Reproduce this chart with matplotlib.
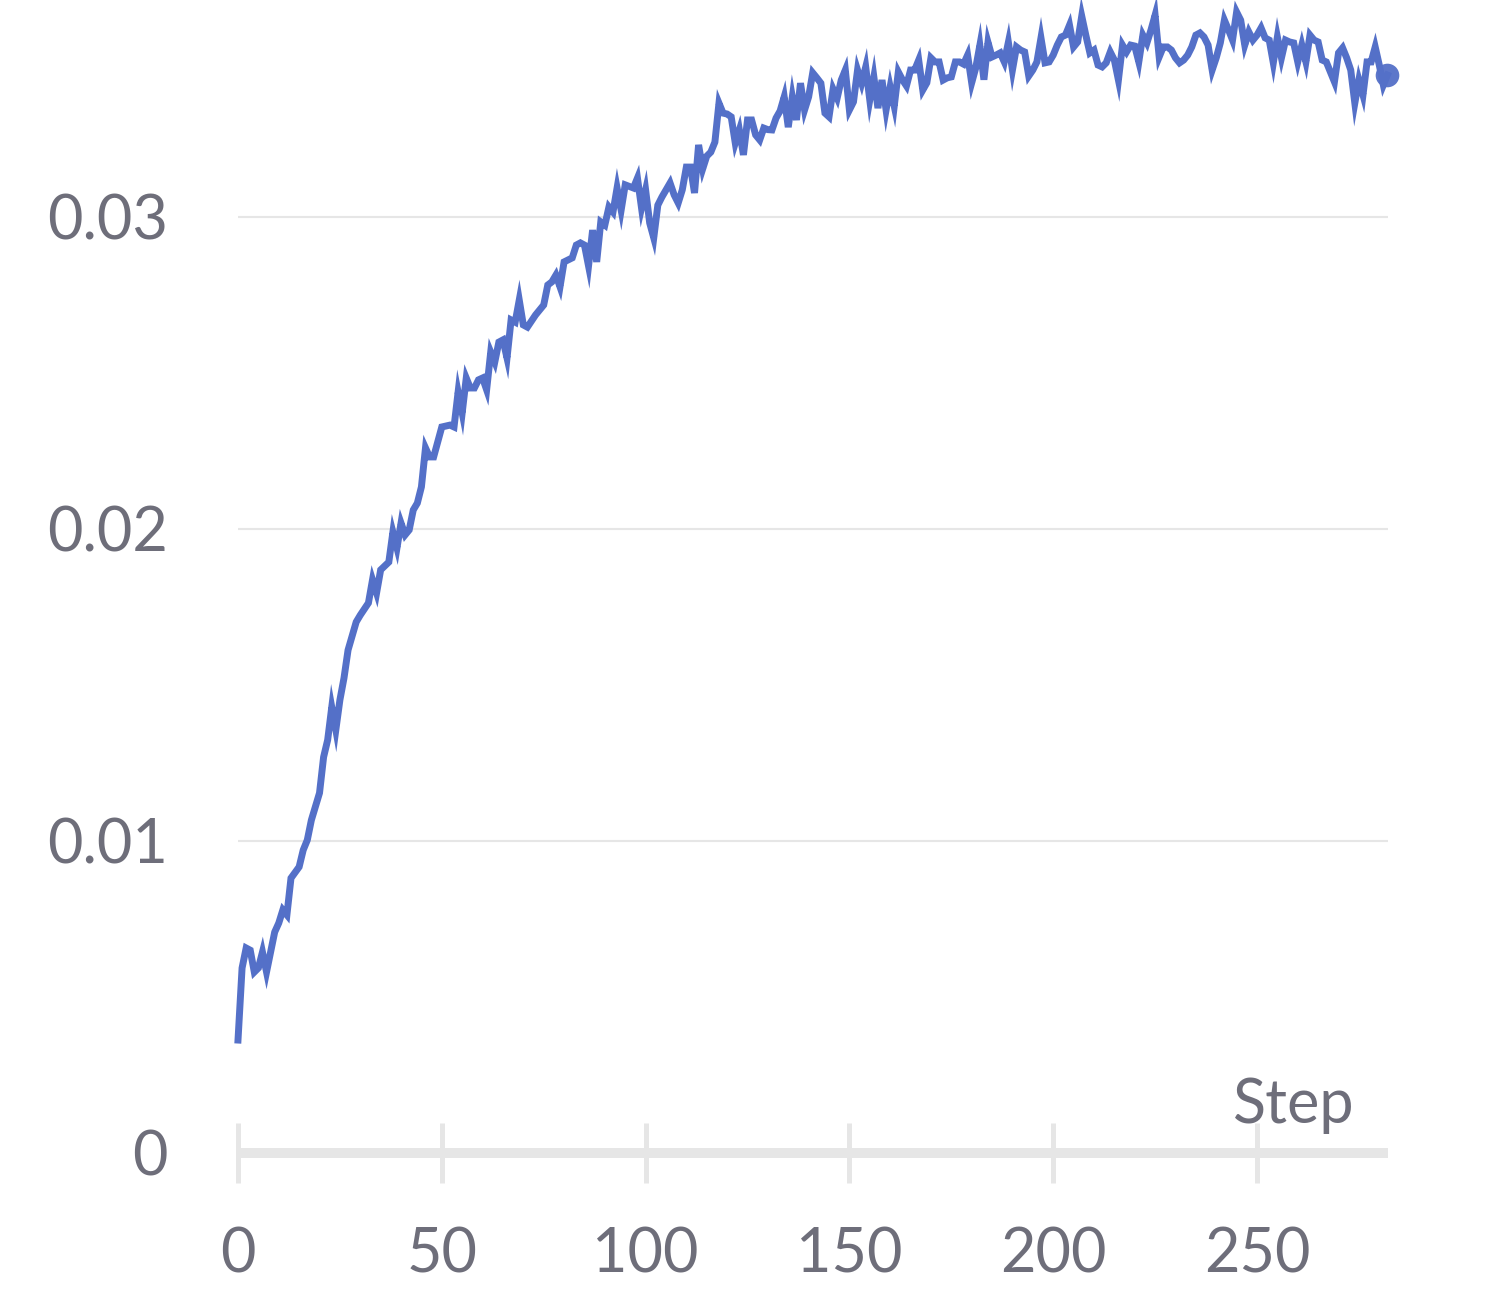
import matplotlib
matplotlib.use("Agg")
import matplotlib.pyplot as plt

plt.rcParams['font.family'] = ['Lato', 'DejaVu Sans']

# ---- data ----
steps = [0, 1, 2, 3, 4, 5, 6, 7, 9, 10, 11, 12, 13, 15, 16, 17, 18, 20, 21, 22,
         23, 24, 25, 26, 27, 29, 30, 32, 33, 34, 35, 37, 38, 39, 40, 41, 42, 43, 44, 45,
         46, 47, 48, 50, 52, 53, 54, 55, 56, 57, 58, 59, 60, 61, 62, 63, 64, 65, 66, 67,
         68, 69, 70, 71, 73, 75, 76, 77, 78, 79, 80, 82, 83, 84, 85, 86, 87, 88, 89, 90,
         91, 92, 93, 94, 95, 97, 98, 99, 100, 101, 102, 103, 104, 106, 107, 108, 109, 110, 111, 112,
         113, 114, 115, 116, 117, 118, 119, 120, 121, 122, 123, 124, 125, 126, 127, 128, 129, 130, 131, 132,
         133, 134, 135, 136, 137, 138, 139, 140, 141, 142, 143, 144, 145, 146, 147, 148, 149, 150, 151, 152,
         153, 154, 155, 156, 157, 158, 159, 160, 161, 162, 163, 164, 165, 166, 167, 168, 169, 170, 171, 172,
         173, 174, 175, 176, 177, 178, 179, 180, 181, 182, 183, 184, 185, 186, 187, 188, 189, 190, 191, 192,
         193, 194, 195, 196, 197, 198, 199, 200, 201, 202, 203, 204, 205, 206, 207, 208, 209, 210, 211, 212,
         213, 214, 215, 216, 217, 218, 219, 220, 221, 222, 223, 224, 225, 226, 227, 228, 229, 230, 231, 232,
         233, 234, 235, 236, 237, 238, 239, 240, 241, 242, 243, 244, 245, 246, 247, 248, 249, 250, 251, 252,
         253, 254, 255, 256, 257, 258, 259, 260, 261, 262, 263, 264, 265, 266, 267, 268, 269, 270, 271, 272,
         273, 274, 275, 276, 277, 278, 279, 280, 281, 282]

values_milli = [3.62, 5.93, 6.57, 6.50, 5.80, 5.93, 6.44, 5.80, 7.08, 7.37, 7.79, 7.63, 8.81, 9.17, 9.71, 10.03, 10.67, 11.54, 12.69, 13.24,
                14.29, 13.56, 14.52, 15.22, 16.12, 17.02, 17.24, 17.63, 18.37, 17.95, 18.69, 18.94, 19.90, 19.39, 20.19, 19.81, 19.97, 20.61, 20.83, 21.35,
                22.60, 22.31, 22.31, 23.27, 23.33, 23.27, 24.39, 23.72, 24.84, 24.52, 24.52, 24.78, 24.84, 24.46, 25.67, 25.35, 25.99, 26.06, 25.48, 26.70,
                26.63, 27.34, 26.54, 26.47, 26.86, 27.18, 27.82, 27.92, 28.14, 27.76, 28.56, 28.69, 29.10, 29.17, 29.10, 28.43, 29.58, 28.56, 29.84, 29.74,
                30.32, 30.16, 30.93, 30.22, 31.03, 30.93, 31.25, 30.29, 30.87, 29.81, 29.33, 30.38, 30.64, 31.09, 30.71, 30.45, 30.87, 31.60, 31.60, 30.77,
                32.31, 31.54, 31.95, 32.08, 32.40, 33.65, 33.33, 33.30, 33.21, 32.37, 32.79, 31.99, 33.11, 33.11, 32.63, 32.47, 32.85, 32.80, 32.79, 33.17,
                33.40, 33.85, 32.88, 33.85, 33.11, 34.29, 33.43, 33.85, 34.62, 34.46, 34.29, 33.33, 33.21, 34.10, 33.81, 34.39, 34.71, 33.43, 33.69, 34.71,
                34.29, 34.81, 33.75, 34.49, 33.49, 34.39, 33.43, 34.17, 33.55, 34.65, 34.40, 34.20, 34.71, 34.71, 35.03, 34.07, 34.30, 35.10, 34.97, 34.97,
                34.39, 34.46, 34.49, 34.97, 34.97, 34.90, 35.19, 34.30, 34.78, 35.50, 34.40, 35.60, 35.13, 35.19, 35.26, 34.97, 35.60, 34.71, 35.45, 35.35,
                35.29, 34.52, 34.71, 34.97, 35.74, 34.94, 34.97, 35.19, 35.51, 35.77, 35.83, 36.15, 35.45, 35.61, 36.44, 35.83, 35.26, 35.35, 34.87, 34.81,
                34.94, 35.29, 35.03, 34.39, 35.51, 35.29, 35.51, 35.48, 34.97, 35.83, 35.58, 36.00, 36.47, 35.13, 35.45, 35.45, 35.35, 35.10, 34.94, 35.03,
                35.19, 35.45, 35.83, 35.90, 35.77, 35.51, 34.71, 35.10, 35.58, 36.31, 36.00, 35.67, 36.57, 36.31, 35.51, 35.93, 35.67, 35.83, 36.06, 35.74,
                35.67, 34.94, 35.77, 35.10, 35.67, 35.61, 35.58, 34.97, 35.51, 34.97, 35.83, 35.67, 35.61, 35.03, 34.97, 34.65, 34.33, 35.26, 35.42, 35.10,
                34.71, 33.65, 34.39, 33.91, 34.97, 34.97, 35.45, 34.87, 34.23, 34.55]
values = [v / 1000.0 for v in values_milli]

x_ticks = [0, 50, 100, 150, 200, 250]
y_ticks = [0, 0.01, 0.02, 0.03]
y_tick_labels = ["0", "0.01", "0.02", "0.03"]
x_label = "Step"

# ---- style ----
LINE_COLOR = "#5470c8"
TEXT_COLOR = "#6e6e7a"
GRID_COLOR = "#e6e6e6"
FONT_SIZE = 44

W, H = 1503, 1296
fig = plt.figure(figsize=(W / 100, H / 100), dpi=100)
ax = fig.add_axes([238 / W, (H - 1153) / H, 1150 / W, 1153 / H])

ax.plot(steps, values, color=LINE_COLOR, lw=5.0, solid_joinstyle="miter",
        clip_on=False, zorder=3)
ax.plot([steps[-1]], [values[-1]], "o", color=LINE_COLOR, ms=17, mec="none",
        alpha=0.95, clip_on=False, zorder=4)

ax.set_xlim(0, 282.14)
ax.set_ylim(0, 0.036955)

for side in ("top", "right", "left"):
    ax.spines[side].set_visible(False)
ax.spines["bottom"].set_color(GRID_COLOR)
ax.spines["bottom"].set_linewidth(7.2)
ax.spines["bottom"].set_capstyle("butt")
ax.spines["bottom"].set_zorder(1)

ax.set_xticks(x_ticks)
ax.set_xticklabels([str(t) for t in x_ticks])
ax.tick_params(axis="x", direction="inout", length=43, width=3.6, color=GRID_COLOR,
               pad=31.5, labelsize=FONT_SIZE, labelcolor=TEXT_COLOR)

ax.set_yticks(y_ticks)
ax.set_yticklabels(y_tick_labels)
ax.tick_params(axis="y", length=0, pad=50.5, labelsize=FONT_SIZE, labelcolor=TEXT_COLOR)

for y in y_ticks[1:]:
    ax.axhline(y, color=GRID_COLOR, lw=1.5, zorder=0)

ax.text(0.9713, 0.026, x_label, transform=ax.transAxes, ha="right", va="baseline",
        fontsize=FONT_SIZE, color=TEXT_COLOR)

fig.savefig("out.png", dpi=100, facecolor="white")
